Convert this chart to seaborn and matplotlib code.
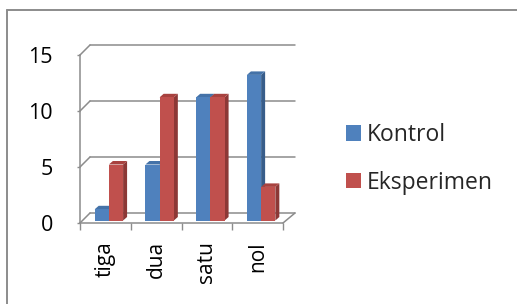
import matplotlib
matplotlib.use("Agg")
import matplotlib.pyplot as plt
import seaborn as sns
import pandas as pd
from matplotlib.patches import Polygon, Patch
from matplotlib.lines import Line2D

# ---- data ----
categories = ["tiga", "dua", "satu", "nol"]
kontrol = [1, 5, 11, 13]
eksperimen = [5, 11, 11, 3]
series_names = ["Kontrol", "Eksperimen"]
y_ticks = [0, 5, 10, 15]

df = pd.DataFrame({
    "kategori": categories * 2,
    "nilai": kontrol + eksperimen,
    "seri": [series_names[0]] * len(categories) + [series_names[1]] * len(categories),
})

sns.set_theme(style="white")
plt.rcParams["font.family"] = ["Open Sans", "DejaVu Sans"]

W, H, DPI = 517, 304, 100
fig = plt.figure(figsize=(W / DPI, H / DPI), dpi=DPI)
fig.patch.set_facecolor("white")

# front plane of the plot area in pixels
L, R, B, T = 80, 283, 223, 55
ax = fig.add_axes([L / W, 1 - B / H, (R - L) / W, (B - T) / H])
ax.set_facecolor("none")

front_col = {"Kontrol": "#4F81BD", "Eksperimen": "#C0504D"}
side_col = {"Kontrol": "#385D8A", "Eksperimen": "#8C3836"}
top_col = {"Kontrol": "#4472A8", "Eksperimen": "#A8423F"}
grid = "#8C8C8C"

sns.barplot(data=df, x="kategori", y="nilai", hue="seri", order=categories,
            hue_order=series_names, palette=front_col, width=0.56,
            saturation=1, errorbar=None, legend=False, ax=ax,
            edgecolor="none", linewidth=0)

xmin, xmax = -0.5, len(categories) - 0.5
ax.set_xlim(xmin, xmax)
ax.set_ylim(0, 15)
px_x = (R - L) / (xmax - xmin)
px_y = (B - T) / 15.0

def dx(p):
    return p / px_x

def dy(p):
    return p / px_y

# walls (back gridlines, side wall diagonals, floor)
wall_dx, wall_dy = 10, 10
for v in y_ticks:
    ax.plot([xmin + dx(wall_dx), xmax + dx(12)], [v + dy(wall_dy)] * 2,
            color=grid, lw=1.1, clip_on=False, zorder=1)
    ax.plot([xmin, xmin + dx(wall_dx)], [v, v + dy(wall_dy)],
            color=grid, lw=1.1, clip_on=False, zorder=1)
ax.plot([xmax, xmax + dx(12)], [0, dy(wall_dy)], color=grid, lw=1.1,
        clip_on=False, zorder=1)

# 3D bars
rects = []
for cont, name in zip(ax.containers, series_names):
    for r in cont:
        rects.append((r, name))
rects.sort(key=lambda t: t[0].get_x())
off_x, off_y = 3.5, 2.5     # bar placed a little behind the front plane
dep_x, dep_y = 4.0, 3.5     # bar depth
for k, (r, name) in enumerate(rects):
    r.set_x(r.get_x() + dx(off_x))
    r.set_y(r.get_y() + dy(off_y))
    r.set_clip_on(False)
    z = 3 + k * 0.1
    r.set_zorder(z + 0.05)
    x0, x1 = r.get_x(), r.get_x() + r.get_width()
    y0, y1 = r.get_y(), r.get_y() + r.get_height()
    side = Polygon([(x1, y0), (x1 + dx(dep_x), y0 + dy(dep_y)),
                    (x1 + dx(dep_x), y1 + dy(dep_y)), (x1, y1)],
                   closed=True, facecolor=side_col[name], edgecolor="none",
                   clip_on=False, zorder=z)
    top = Polygon([(x0, y1), (x1, y1), (x1 + dx(dep_x), y1 + dy(dep_y)),
                   (x0 + dx(dep_x), y1 + dy(dep_y))],
                  closed=True, facecolor=top_col[name], edgecolor="none",
                  clip_on=False, zorder=z)
    ax.add_patch(side)
    ax.add_patch(top)

# axes styling
for s in ["top", "right"]:
    ax.spines[s].set_visible(False)
for s in ["left", "bottom"]:
    ax.spines[s].set_color(grid)
    ax.spines[s].set_linewidth(1.1)
    ax.spines[s].set_zorder(2)

ax.set_yticks(y_ticks)
ax.set_yticklabels([str(v) for v in y_ticks])
ax.tick_params(axis="y", left=True, length=2.5, width=1.0, color=grid,
               pad=17, labelsize=15.5, labelcolor="black")
ax.set_xticks(range(len(categories)))
ax.set_xticklabels(categories, rotation=90)
ax.set_xticks([xmin + i for i in range(len(categories) + 1)], minor=True)
ax.tick_params(axis="x", which="major", length=0, pad=13, labelsize=15,
               labelcolor="black")
ax.tick_params(axis="x", which="minor", bottom=True, length=5, width=1.0,
               color=grid)
ax.set_xlabel("")
ax.set_ylabel("")

# legend
handles = [Patch(facecolor=front_col[n], edgecolor="none") for n in series_names]
fig.legend(handles, series_names, loc="center left",
           bbox_to_anchor=(346 / W, 1 - 159 / H), frameon=False,
           fontsize=16.5, handlelength=0.655, handleheight=0.655,
           handletextpad=0.26, labelspacing=1.03, borderpad=0,
           borderaxespad=0)

# outer chart border (left and top visible)
fig.add_artist(Line2D([6.5 / W, 6.5 / W], [0, 1 - 10 / H], color=grid, lw=1.4,
                      transform=fig.transFigure))
fig.add_artist(Line2D([6.5 / W, 1], [1 - 10 / H, 1 - 10 / H], color=grid,
                      lw=1.4, transform=fig.transFigure))

fig.savefig("out.png", dpi=DPI, facecolor="white")
